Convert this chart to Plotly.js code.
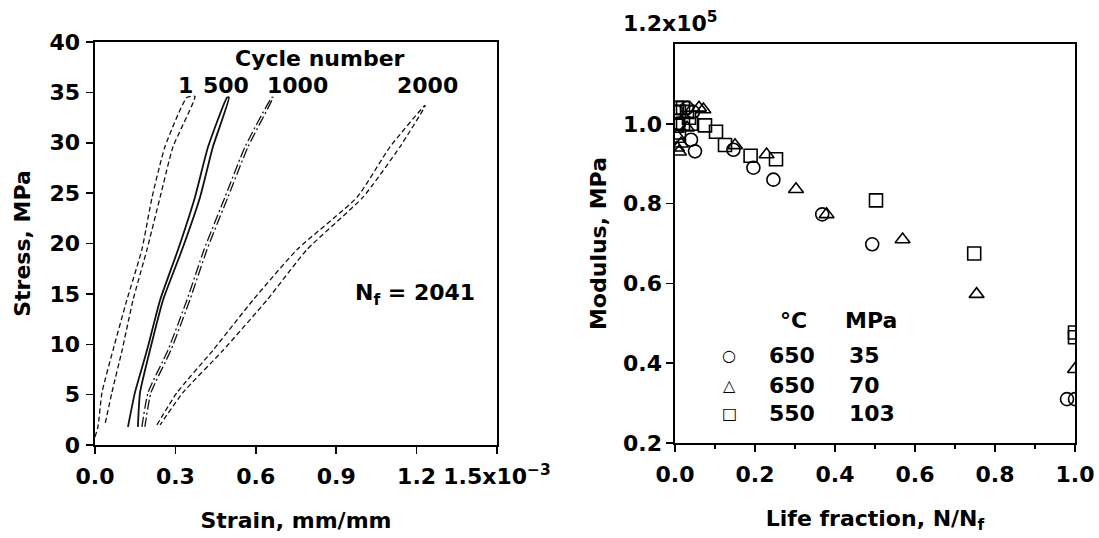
<!DOCTYPE html>
<html>
<head>
<meta charset="utf-8">
<script src="https://cdn.plot.ly/plotly-3.0.1.min.js"></script>
<style>html,body{margin:0;padding:0;background:#fff;}#chart{width:1099px;height:538px;}</style>
</head>
<body>
<div id="chart"></div>
<script>
// ---------- Left panel: stress-strain loops (strain in 1e-3 mm/mm, stress in MPa) ----------
const cycle1Strain   = [0.0, 0.011, 0.026, 0.067, 0.119, 0.175, 0.213, 0.261, 0.343, 0.373, 0.291, 0.243, 0.194, 0.142, 0.101, 0.063, 0.037];
const cycle1Stress   = [0.8, 1.8, 5.2, 9.4, 14.4, 19.4, 24.6, 29.6, 34.5, 34.6, 29.6, 24.6, 19.4, 14.4, 9.4, 5.2, 2.0];
const cycle500Strain = [0.123, 0.149, 0.194, 0.243, 0.31, 0.373, 0.422, 0.493, 0.50, 0.44, 0.392, 0.325, 0.254, 0.205, 0.168, 0.16];
const cycle500Stress = [1.8, 5.2, 9.4, 14.4, 19.4, 24.6, 29.6, 34.5, 34.5, 29.6, 24.6, 19.4, 14.4, 9.4, 5.2, 1.8];
const cycle1000Strain = [0.175, 0.198, 0.272, 0.343, 0.407, 0.485, 0.56, 0.66, 0.664, 0.571, 0.496, 0.418, 0.354, 0.283, 0.209, 0.186];
const cycle1000Stress = [1.8, 5.2, 9.4, 14.4, 19.4, 24.6, 29.6, 34.5, 34.5, 29.6, 24.6, 19.4, 14.4, 9.4, 5.2, 1.8];
const cycle2000Strain = [0.231, 0.306, 0.44, 0.59, 0.754, 0.978, 1.101, 1.231, 1.231, 1.138, 1.0, 0.791, 0.642, 0.478, 0.328, 0.243];
const cycle2000Stress = [2.0, 5.2, 9.4, 14.4, 19.4, 24.6, 29.6, 33.7, 33.6, 29.6, 24.6, 19.4, 14.4, 9.4, 5.2, 2.0];
const cycleLabels = ['1', '500', '1000', '2000'];
const cycleLabelStrain = [0.336, 0.489, 0.757, 1.239];
const strainTicks = [0, 0.3, 0.6, 0.9, 1.2, 1.5];
const strainTickText = ['0.0', '0.3', '0.6', '0.9', '1.2', '1.5x10<sup>−3</sup>'];
const stressTicks = [0, 5, 10, 15, 20, 25, 30, 35, 40];

// ---------- Right panel: modulus (x1e5 MPa) vs life fraction ----------
const circLife = [0.005, 0.01, 0.03, 0.045, 0.04, 0.05, 0.146, 0.196, 0.246, 0.368, 0.493, 0.98, 1.0];
const circMod  = [1.03, 1.0, 1.04, 1.03, 0.96, 0.931, 0.935, 0.89, 0.86, 0.773, 0.698, 0.31, 0.31];
const triLife  = [0.005, 0.01, 0.015, 0.005, 0.06, 0.03, 0.071, 0.15, 0.229, 0.3025, 0.379, 0.569, 0.754, 1.0];
const triMod   = [0.94, 0.93, 0.95, 0.97, 1.04, 0.99, 1.036, 0.946, 0.923, 0.836, 0.773, 0.71, 0.573, 0.385];
const sqLife   = [0.005, 0.01, 0.02, 0.03, 0.01, 0.02, 0.005, 0.04, 0.035, 0.075, 0.1025, 0.125, 0.189, 0.2525, 0.5025, 0.748, 1.0, 1.0];
const sqMod    = [1.04, 1.03, 1.04, 1.03, 0.97, 1.0, 0.995, 1.0, 1.015, 0.996, 0.98, 0.947, 0.92, 0.911, 0.808, 0.675, 0.477, 0.465];
const lifeTicks = [0, 0.2, 0.4, 0.6, 0.8, 1.0];
const lifeTickText = ['0.0', '0.2', '0.4', '0.6', '0.8', '1.0'];
const modTicks = [0.2, 0.4, 0.6, 0.8, 1.0];
const modTickText = ['0.2', '0.4', '0.6', '0.8', '1.0'];
const modTopLabel = '1.2x10<sup>5</sup>';
const legendSymbols = ['○', '△', '□'];
const legendTemps = ['650', '650', '550'];
const legendStress = ['35', '70', '103'];

const FONT = 'DejaVu Sans';
const fnt = (s) => ({family: FONT, size: s, color: '#000', weight: 700});
const W = 1099, H = 538;
const px = (x) => x / W;
const py = (y) => 1 - y / H;

function loop(x, y, dash, width) {
  return {x: x, y: y, xaxis: 'x', yaxis: 'y', type: 'scatter', mode: 'lines',
          line: {color: '#111', width: width || 1.3, dash: dash, shape: 'spline', smoothing: 0.5},
          hoverinfo: 'skip', showlegend: false};
}
function pts(x, y, sym) {
  return {x: x, y: y, xaxis: 'x2', yaxis: 'y2', type: 'scatter', mode: 'markers',
          marker: {symbol: sym, size: 13, color: '#000', line: {color: '#000', width: 1.6}},
          hoverinfo: 'skip', showlegend: false};
}

const data = [
  loop(cycle1Strain, cycle1Stress, '5px,3px'),
  loop(cycle500Strain, cycle500Stress, 'solid', 1.8),
  loop(cycle1000Strain, cycle1000Stress, '10px,3px,2px,3px'),
  loop(cycle2000Strain, cycle2000Stress, '5px,3px'),
  pts(circLife, circMod, 'circle-open'),
  pts(triLife, triMod, 'triangle-up-open'),
  pts(sqLife, sqMod, 'square-open')
];

const axBase = {showgrid: false, zeroline: false, showline: true, linecolor: '#000', linewidth: 1.6,
                mirror: true, ticks: 'outside', ticklen: 7, tickwidth: 1.5, tickcolor: '#000',
                tickfont: fnt(22), automargin: false, fixedrange: true};

const ann = (o) => Object.assign({showarrow: false, xanchor: 'center', yanchor: 'middle', font: fnt(22)}, o);
const annotations = [];
annotations.push(ann({xref: 'x', yref: 'y', x: 0.84, y: 38.4, text: 'Cycle number'}));
cycleLabels.forEach((t, i) => annotations.push(ann({xref: 'x', yref: 'y', x: cycleLabelStrain[i], y: 35.7, text: t})));
annotations.push(ann({xref: 'x', yref: 'y', x: 1.194, y: 14.9, text: 'N<sub>f</sub> = 2041'}));
annotations.push(ann({xref: 'paper', yref: 'paper', x: px(670), y: py(22), text: modTopLabel}));
annotations.push(ann({xref: 'paper', yref: 'paper', x: px(793), y: py(320), text: '°C'}));
annotations.push(ann({xref: 'paper', yref: 'paper', x: px(843), y: py(320), xanchor: 'left', text: 'MPa'}));
const rowY = [355, 385, 413];
legendSymbols.forEach((s, i) => {
  annotations.push(ann({xref: 'paper', yref: 'paper', x: px(729), y: py(rowY[i]), text: s, font: {family: FONT, size: 16, color: '#000'}}));
  annotations.push(ann({xref: 'paper', yref: 'paper', x: px(792), y: py(rowY[i]), text: legendTemps[i]}));
  annotations.push(ann({xref: 'paper', yref: 'paper', x: px(847), y: py(rowY[i]), xanchor: 'left', text: legendStress[i]}));
});

const layout = {
  width: W, height: H,
  margin: {l: 0, r: 0, t: 0, b: 0},
  paper_bgcolor: '#fff', plot_bgcolor: '#fff',
  showlegend: false,
  font: fnt(22),
  xaxis: Object.assign({}, axBase, {domain: [px(95), px(497)], range: [0, 1.5], tickvals: strainTicks, ticktext: strainTickText,
          anchor: 'y', ticklabelstandoff: 4, title: {text: 'Strain, mm/mm', font: fnt(22), standoff: 24}}),
  yaxis: Object.assign({}, axBase, {domain: [1 - 445 / H, 1 - 42 / H], range: [0, 40], tickvals: stressTicks,
          anchor: 'x', ticklabelstandoff: 2, title: {text: 'Stress, MPa', font: fnt(22), standoff: 12}}),
  xaxis2: Object.assign({}, axBase, {domain: [px(675), px(1075)], range: [0, 1.0], tickvals: lifeTicks, ticktext: lifeTickText,
          anchor: 'y2', ticklabelstandoff: 4, minor: {dtick: 0.1, ticks: 'outside', ticklen: 4, tickcolor: '#000', tickwidth: 1.2},
          title: {text: 'Life fraction, N/N<sub>f</sub>', font: fnt(22), standoff: 24}}),
  yaxis2: Object.assign({}, axBase, {domain: [1 - 443 / H, 1 - 44 / H], range: [0.2, 1.2], tickvals: modTicks, ticktext: modTickText,
          anchor: 'x2', title: {text: 'Modulus, MPa', font: fnt(22), standoff: 10}}),
  annotations: annotations
};

Plotly.newPlot('chart', data, layout, {displayModeBar: false, staticPlot: true});
</script>
</body>
</html>
